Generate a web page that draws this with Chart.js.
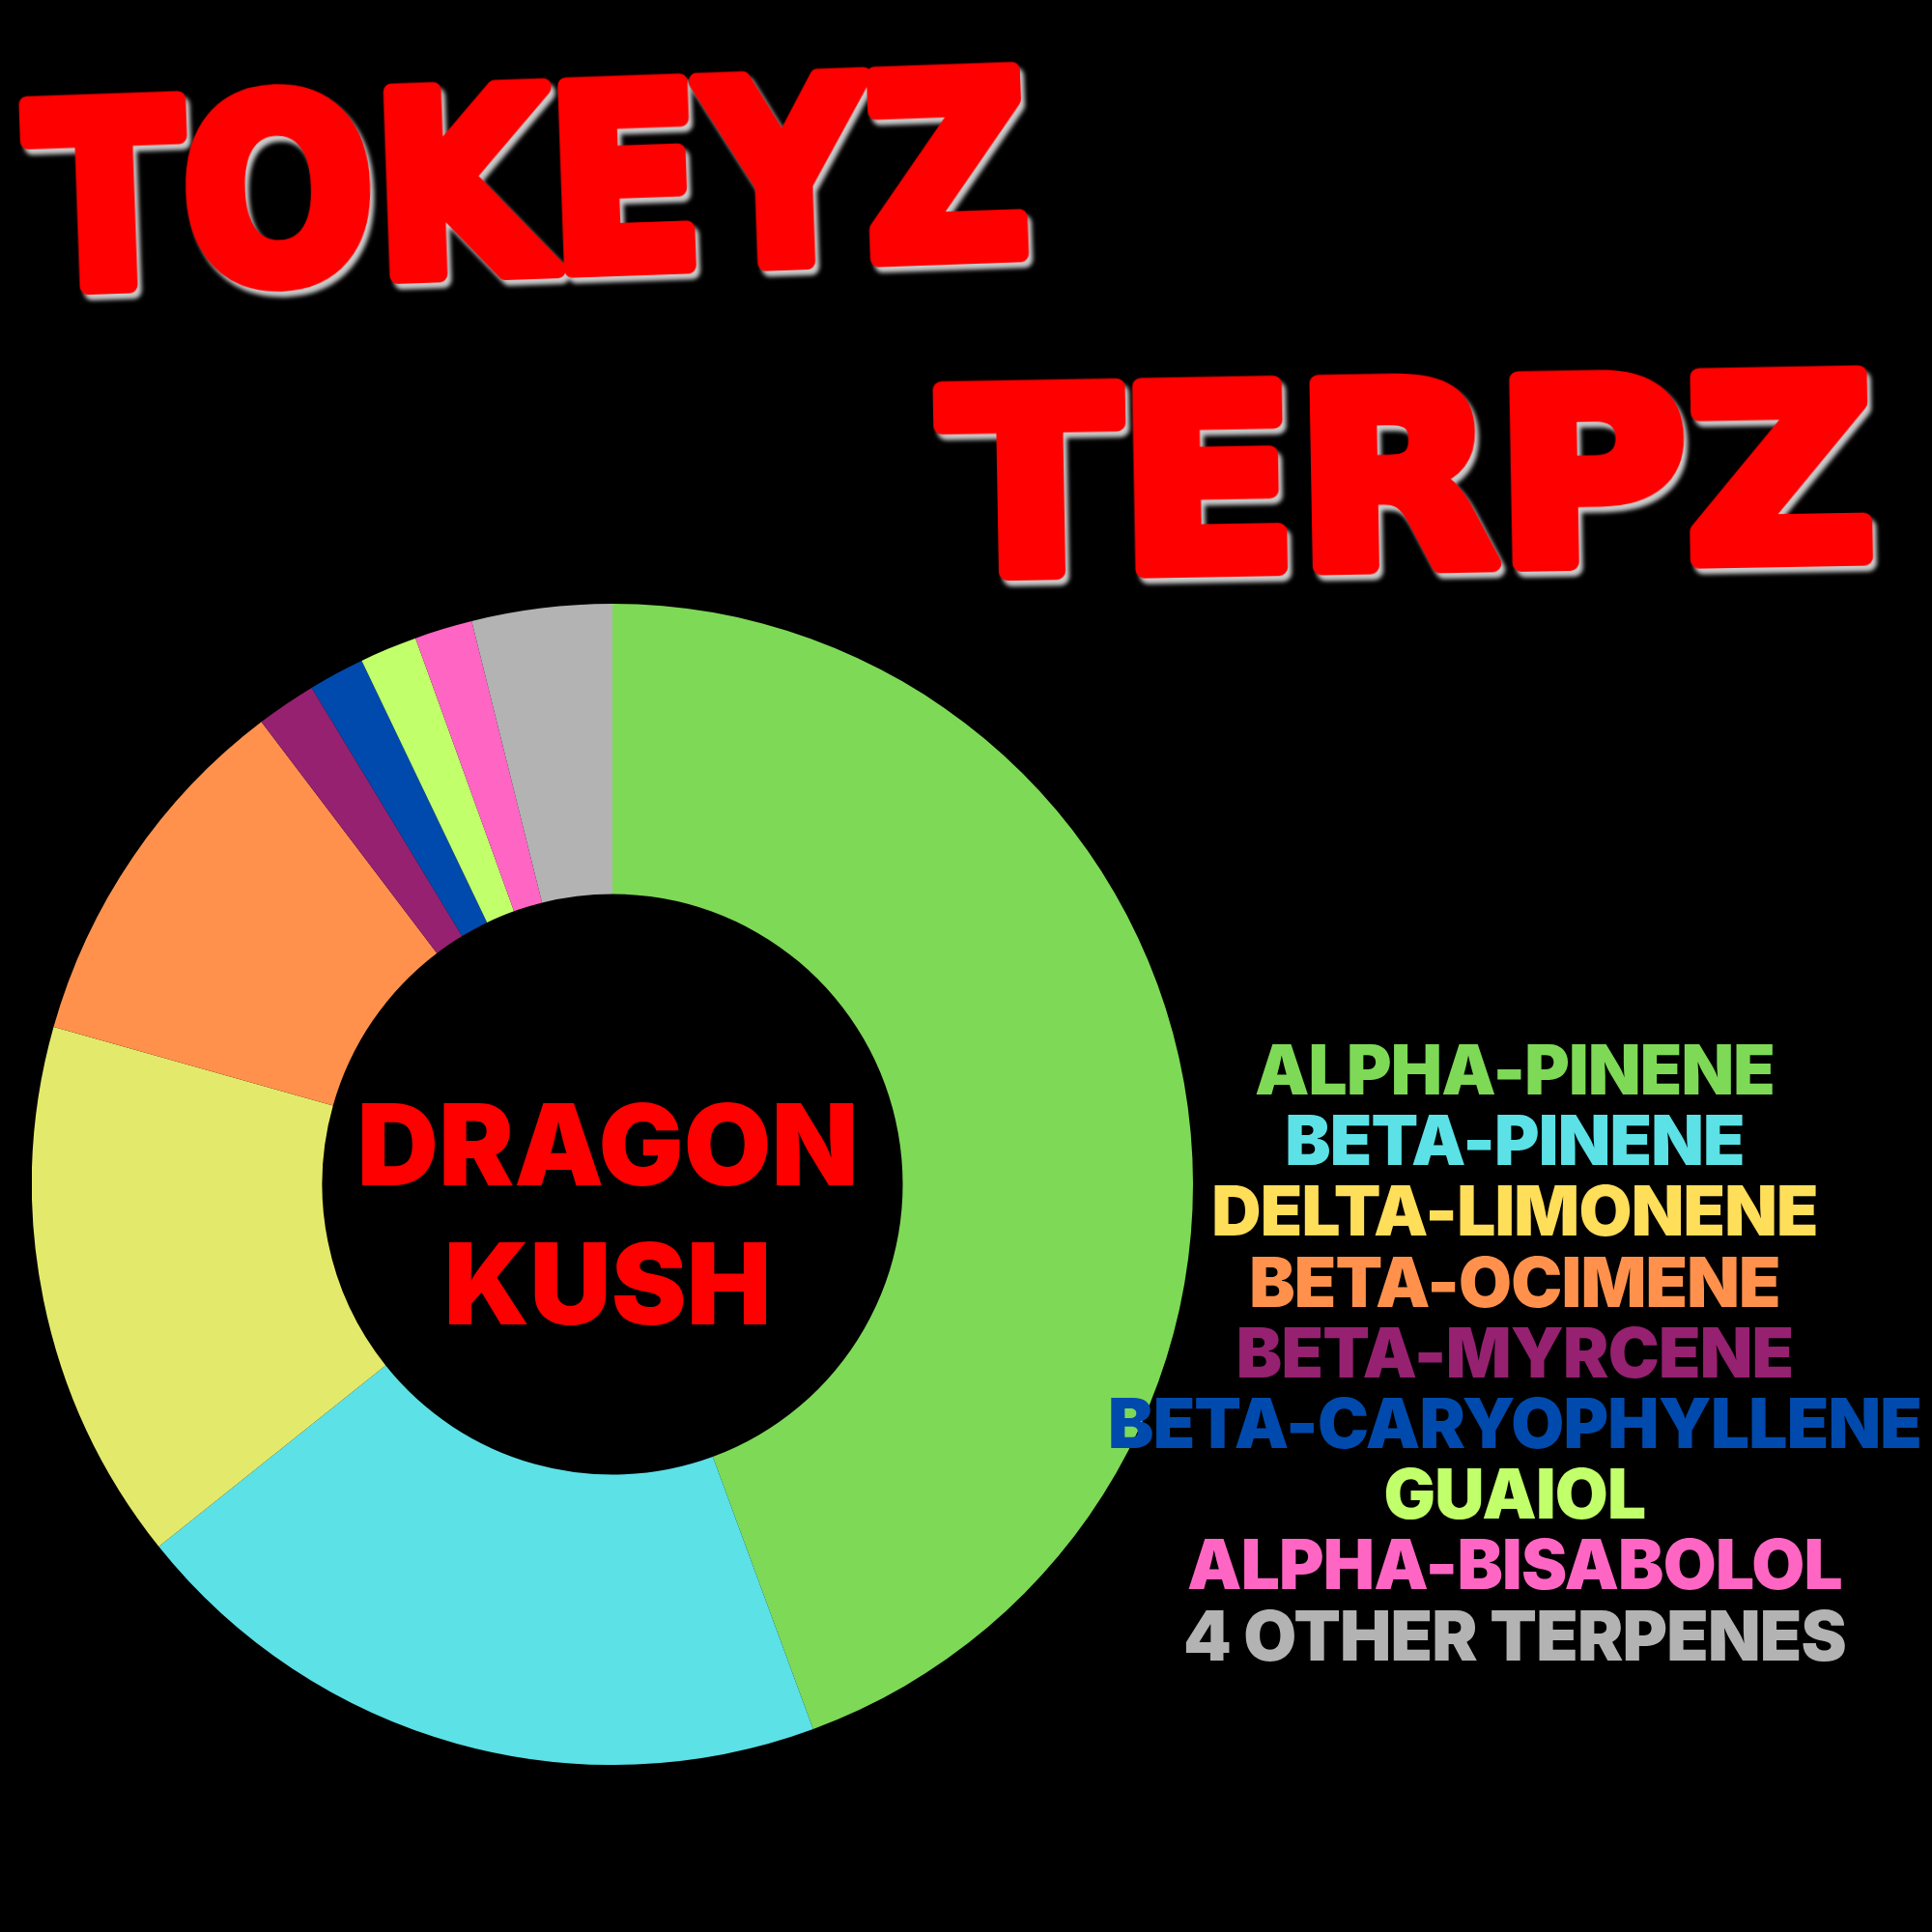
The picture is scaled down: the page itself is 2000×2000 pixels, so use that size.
<!DOCTYPE html>
<html>
<head>
<meta charset="utf-8">
<script src="https://cdn.jsdelivr.net/npm/chart.js@4.4.0/dist/chart.umd.min.js"></script>
<style>
  html, body { margin: 0; padding: 0; background: #000; }
  body { width: 2000px; height: 2000px; position: relative; overflow: hidden; }
  #title { position: absolute; left: 0; top: 0; width: 2000px; height: 650px; }
  #title text { font-family: "DejaVu Sans", sans-serif; font-weight: bold; fill: #ff0000; stroke: #ff0000; stroke-width: 18; stroke-linejoin: round; filter: drop-shadow(4px 6px 2px #c8c8c8); }
  #chartWrap { position: absolute; left: 33px; top: 625px; width: 1202px; height: 1202px; }
  .center { position: absolute; width: 800px; left: 229px; text-align: center; font-family: Inter, "Open Sans", sans-serif; font-weight: 900; font-size: 117px; line-height: 117px; color: #ff0000; white-space: nowrap; }
  .leg { position: absolute; width: 1000px; left: 1068px; text-align: center; font-family: Inter, "Open Sans", sans-serif; font-weight: 900; font-size: 71px; line-height: 71px; letter-spacing: -0.8px; white-space: nowrap; }
</style>
</head>
<body>
<svg id="title" width="2000" height="650" xmlns="http://www.w3.org/2000/svg">
  <text id="t1" x="30" y="280" font-size="260" textLength="1035" lengthAdjust="spacingAndGlyphs" transform="rotate(-2 550 200)"></text>
  <text id="t2" x="975" y="585" font-size="260" textLength="965" lengthAdjust="spacingAndGlyphs" transform="rotate(-1 1450 480)"></text>
</svg>
<div id="chartWrap"><canvas id="c" width="1202" height="1202"></canvas></div>
<div id="centerText"></div>
<div id="legend"></div>
<script>
const titleLines = ["TOKEYZ", "TERPZ"];
const strainName = ["DRAGON", "KUSH"];
const categories = ["ALPHA-PINENE", "BETA-PINENE", "DELTA-LIMONENE", "BETA-OCIMENE", "BETA-MYRCENE", "BETA-CARYOPHYLLENE", "GUAIOL", "ALPHA-BISABOLOL", "4 OTHER TERPENES"];
const values = [44.4, 19.9, 15.1, 10.3, 1.67, 1.56, 1.6, 1.61, 3.9];
const sliceColors = ["#7ed957", "#5ce1e6", "#e3ea6b", "#ff914d", "#952170", "#004aad", "#c1ff6b", "#ff66c4", "#b3b3b3"];
const legendColors = ["#7ed957", "#5ce1e6", "#ffde59", "#ff914d", "#952170", "#004aad", "#c1ff6b", "#ff66c4", "#b3b3b3"];

document.getElementById('t1').textContent = titleLines[0];
document.getElementById('t2').textContent = titleLines[1];

const ct = document.getElementById('centerText');
const centerBaselines = [1227, 1371];
strainName.forEach((s, i) => {
  const d = document.createElement('div');
  d.className = 'center';
  d.textContent = s;
  d.style.top = (centerBaselines[i] - 101) + 'px';
  ct.appendChild(d);
});

const lg = document.getElementById('legend');
categories.forEach((c, i) => {
  const d = document.createElement('div');
  d.className = 'leg';
  d.textContent = c;
  d.style.color = legendColors[i];
  d.style.top = (1133 + 73.2 * i - 61) + 'px';
  lg.appendChild(d);
});

new Chart(document.getElementById('c'), {
  type: 'doughnut',
  data: {
    labels: categories,
    datasets: [{ data: values, backgroundColor: sliceColors, borderWidth: 0, hoverOffset: 0 }]
  },
  options: {
    responsive: false,
    animation: false,
    cutout: '50%',
    layout: { padding: 0 },
    plugins: { legend: { display: false }, tooltip: { enabled: false } }
  }
});
</script>
</body>
</html>
